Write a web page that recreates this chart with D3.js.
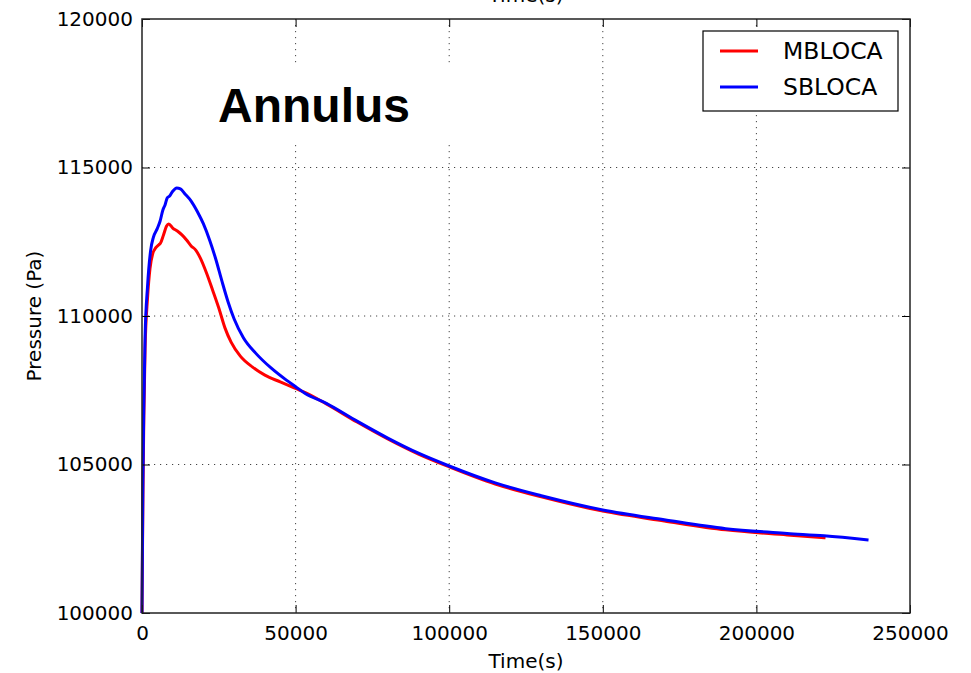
<!DOCTYPE html>
<html>
<head>
<meta charset="utf-8">
<script src="https://cdn.jsdelivr.net/npm/d3@7"></script>
<style>
  html, body { margin: 0; padding: 0; background: #fff; }
  svg { display: block; }
</style>
</head>
<body>
<svg id="chart" width="971" height="673"></svg>
<script>
// Annulus pressure history for the two break cases
const mblocaTime = [0, 300, 600, 1000, 1800, 2600, 3500, 4500, 5500, 6000, 7000, 8000, 8700, 10000, 11500, 13000, 14500, 16000, 17500, 19000, 21000, 23000, 25000, 27000, 29000, 32000, 36000, 40000, 45000, 50000, 53000, 60000, 70000, 80000, 90000, 100000, 115000, 130000, 150000, 170000, 190000, 210000, 222500];
const mblocaPressure = [100000, 104000, 106600, 108900, 110600, 111600, 112100, 112300, 112400, 112450, 112730, 113030, 113100, 112960, 112860, 112730, 112560, 112360, 112220, 111950, 111450, 110870, 110270, 109600, 109120, 108650, 108280, 108010, 107780, 107560, 107430, 107040, 106430, 105860, 105350, 104920, 104340, 103910, 103430, 103100, 102800, 102630, 102530];

const sblocaTime = [0, 300, 600, 1000, 1800, 2800, 3700, 5000, 5900, 6800, 7500, 8200, 9000, 10000, 11300, 12500, 14000, 16000, 18000, 20000, 22000, 24000, 26000, 28000, 30000, 33000, 37000, 42000, 47000, 50000, 53000, 60000, 70000, 80000, 90000, 100000, 115000, 130000, 150000, 170000, 190000, 210000, 222000, 236500];
const sblocaPressure = [100000, 104500, 107000, 109300, 111000, 112200, 112650, 112950, 113200, 113570, 113740, 113970, 114040, 114200, 114310, 114280, 114110, 113870, 113520, 113100, 112560, 111920, 111180, 110480, 109900, 109270, 108750, 108250, 107840, 107620, 107400, 107060, 106460, 105890, 105380, 104950, 104380, 103950, 103470, 103140, 102840, 102680, 102600, 102460];

const seriesNames = ["MBLOCA", "SBLOCA"];
const seriesColors = ["#ff0000", "#0000ff"];

const xTicks = [0, 50000, 100000, 150000, 200000, 250000];
const yTicks = [100000, 105000, 110000, 115000, 120000];

const svg = d3.select("#chart");
const W = 971, H = 673;
const margin = { left: 142, right: 61, top: 19, bottom: 60 };
const x0 = margin.left, x1 = W - margin.right, y0 = margin.top, y1 = H - margin.bottom;

svg.append("rect").attr("width", W).attr("height", H).attr("fill", "#fff");

const x = d3.scaleLinear().domain([0, 250000]).range([x0, x1]);
const y = d3.scaleLinear().domain([100000, 120000]).range([y1, y0]);

const tickFont = "'DejaVu Sans', sans-serif";

// grid
const grid = svg.append("g").attr("stroke", "#444").attr("stroke-width", 1)
  .attr("stroke-dasharray", "1.2,4.8");
xTicks.slice(1, -1).forEach(t => {
  grid.append("line").attr("x1", x(t)).attr("x2", x(t)).attr("y1", y0).attr("y2", y1);
});
yTicks.slice(1, -1).forEach(t => {
  grid.append("line").attr("x1", x0).attr("x2", x1).attr("y1", y(t)).attr("y2", y(t));
});

// title text box, blanks the grid behind it
svg.append("rect").attr("x", 208).attr("y", 63).attr("width", 255).attr("height", 82).attr("fill", "#fff");
svg.append("text").attr("x", 218).attr("y", 121.5)
  .attr("font-family", "'Liberation Sans', Arial, sans-serif").attr("font-weight", "bold")
  .attr("font-size", 48).attr("fill", "#000").text("Annulus");

// curves
const line = d3.line().x(d => x(d[0])).y(d => y(d[1])).curve(d3.curveMonotoneX);
const series = [
  mblocaTime.map((t, i) => [t, mblocaPressure[i]]),
  sblocaTime.map((t, i) => [t, sblocaPressure[i]])
];
series.forEach((s, i) => {
  svg.append("path").datum(s).attr("d", line).attr("fill", "none")
    .attr("stroke", seriesColors[i]).attr("stroke-width", 3).attr("stroke-linejoin", "round");
});

// axes via d3 axis generators, inward ticks on all four sides
const tickLen = 8;
const bottomAxis = d3.axisBottom(x).tickValues(xTicks).tickSizeInner(-tickLen).tickSizeOuter(0).tickPadding(tickLen + 5).tickFormat(d3.format("d"));
const topAxis = d3.axisTop(x).tickValues(xTicks).tickSizeInner(-tickLen).tickSizeOuter(0).tickFormat("");
const leftAxis = d3.axisLeft(y).tickValues(yTicks).tickSizeInner(-tickLen).tickSizeOuter(0).tickPadding(tickLen + 1).tickFormat(d3.format("d"));
const rightAxis = d3.axisRight(y).tickValues(yTicks).tickSizeInner(-tickLen).tickSizeOuter(0).tickFormat("");

function styleAxis(g) {
  g.select(".domain").remove();
  g.selectAll(".tick line").attr("stroke", "#000").attr("stroke-width", 1);
  g.selectAll(".tick text").attr("font-family", tickFont).attr("font-size", 20).attr("fill", "#000");
}
svg.append("g").attr("transform", `translate(0,${y1})`).call(bottomAxis).call(styleAxis);
svg.append("g").attr("transform", `translate(0,${y0})`).call(topAxis).call(styleAxis);
svg.append("g").attr("transform", `translate(${x0},0)`).call(leftAxis).call(styleAxis);
svg.append("g").attr("transform", `translate(${x1},0)`).call(rightAxis).call(styleAxis);

// frame
svg.append("rect").attr("x", x0).attr("y", y0).attr("width", x1 - x0).attr("height", y1 - y0)
  .attr("fill", "none").attr("stroke", "#222").attr("stroke-width", 1.5);

// axis labels
svg.append("text").attr("x", (x0 + x1) / 2).attr("y", 668).attr("text-anchor", "middle")
  .attr("font-family", tickFont).attr("font-size", 20).attr("fill", "#000").text("Time(s)");
svg.append("text").attr("x", (x0 + x1) / 2).attr("y", 2).attr("text-anchor", "middle")
  .attr("font-family", tickFont).attr("font-size", 20).attr("fill", "#000").text("Time(s)");
svg.append("text").attr("transform", `translate(41,${(y0 + y1) / 2}) rotate(-90)`)
  .attr("text-anchor", "middle")
  .attr("font-family", tickFont).attr("font-size", 20).attr("fill", "#000").text("Pressure (Pa)");

// legend
const lg = svg.append("g").attr("transform", "translate(703,31)");
lg.append("rect").attr("width", 195).attr("height", 80).attr("fill", "#fff")
  .attr("stroke", "#000").attr("stroke-width", 1.2);
seriesNames.forEach((n, i) => {
  const yy = 20 + i * 36;
  lg.append("line").attr("x1", 17).attr("x2", 55).attr("y1", yy).attr("y2", yy)
    .attr("stroke", seriesColors[i]).attr("stroke-width", 3);
  lg.append("text").attr("x", 80).attr("y", yy + 8).attr("font-family", tickFont)
    .attr("font-size", 23.5).attr("fill", "#000").text(n);
});
</script>
</body>
</html>
